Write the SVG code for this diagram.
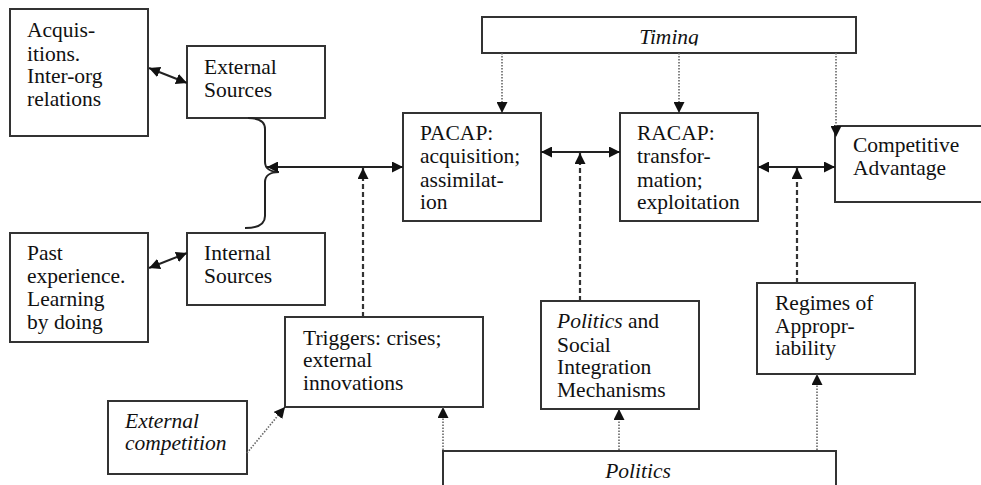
<svg xmlns="http://www.w3.org/2000/svg" width="981" height="485" viewBox="0 0 981 485">
<defs>
<marker id="ah" markerUnits="userSpaceOnUse" markerWidth="11" markerHeight="11" refX="11" refY="5.5" orient="auto-start-reverse">
<path d="M0,0 L11,5.5 L0,11 z" fill="#111"/>
</marker>
<clipPath id="tclip"><rect x="482" y="17" width="374" height="28.5"/></clipPath>
</defs>
<style>
.box{fill:#fff;stroke:#333;stroke-width:2}
.t{font-family:"Liberation Serif","Times New Roman",serif;font-size:21.5px;fill:#111}
.i{font-style:italic}
.solid{stroke:#222;stroke-width:2;fill:none}
.dash{stroke:#333;stroke-width:2.2;stroke-dasharray:5 3;fill:none}
.dot{stroke:#666;stroke-width:1.6;stroke-dasharray:1.5 1.5;fill:none}
</style>
<rect width="981" height="485" fill="#fff"/>

<g id="timing">
<rect class="box" x="482" y="17" width="374" height="36"/>
<text class="t i" x="669" y="44" text-anchor="middle" clip-path="url(#tclip)">Timing</text>
</g>

<g id="acquisitions">
<rect class="box" x="10" y="9" width="138" height="127"/>
<text class="t" x="27" y="37">Acquis-</text>
<text class="t" x="27" y="61">itions.</text>
<text class="t" x="27" y="83">Inter-org</text>
<text class="t" x="27" y="106">relations</text>
</g>

<g id="external-sources">
<rect class="box" x="187" y="46" width="138" height="72"/>
<text class="t" x="204" y="74">External</text>
<text class="t" x="204" y="97">Sources</text>
</g>

<g id="past-experience">
<rect class="box" x="10" y="233" width="138" height="109"/>
<text class="t" x="27" y="260">Past</text>
<text class="t" x="27" y="283">experience.</text>
<text class="t" x="27" y="306">Learning</text>
<text class="t" x="27" y="329">by doing</text>
</g>

<g id="internal-sources">
<rect class="box" x="187" y="233" width="138" height="72"/>
<text class="t" x="204" y="260">Internal</text>
<text class="t" x="204" y="283">Sources</text>
</g>

<g id="pacap">
<rect class="box" x="403" y="113" width="138" height="108"/>
<text class="t" x="420" y="140">PACAP:</text>
<text class="t" x="420" y="163">acquisition;</text>
<text class="t" x="420" y="187">assimilat-</text>
<text class="t" x="420" y="209">ion</text>
</g>

<g id="racap">
<rect class="box" x="620" y="113" width="138" height="108"/>
<text class="t" x="637" y="140">RACAP:</text>
<text class="t" x="637" y="163">transfor-</text>
<text class="t" x="637" y="187">mation;</text>
<text class="t" x="637" y="209">exploitation</text>
</g>

<g id="competitive-advantage">
<rect class="box" x="835" y="126" width="160" height="76"/>
<text class="t" x="853" y="152">Competitive</text>
<text class="t" x="853" y="175">Advantage</text>
</g>

<g id="triggers">
<rect class="box" x="285" y="317" width="198" height="90"/>
<text class="t" x="303" y="345">Triggers: crises;</text>
<text class="t" x="303" y="367">external</text>
<text class="t" x="303" y="390">innovations</text>
</g>

<g id="politics-social">
<rect class="box" x="541" y="301" width="158" height="108"/>
<text class="t" x="557" y="328"><tspan class="i">Politics</tspan> and</text>
<text class="t" x="557" y="352">Social</text>
<text class="t" x="557" y="374">Integration</text>
<text class="t" x="557" y="397">Mechanisms</text>
</g>

<g id="regimes">
<rect class="box" x="757" y="283" width="158" height="91"/>
<text class="t" x="775" y="310">Regimes of</text>
<text class="t" x="775" y="333">Appropr-</text>
<text class="t" x="775" y="355">iability</text>
</g>

<g id="external-competition">
<rect class="box" x="108" y="401" width="139" height="73"/>
<text class="t i" x="125" y="428">External</text>
<text class="t i" x="125" y="450">competition</text>
</g>

<g id="politics">
<rect class="box" x="443" y="451" width="393" height="50"/>
<text class="t i" x="638" y="478" text-anchor="middle">Politics</text>
</g>

<g id="connectors">
<line class="solid" x1="149" y1="68" x2="187" y2="83" marker-start="url(#ah)" marker-end="url(#ah)"/>
<line class="solid" x1="149" y1="268" x2="187" y2="253" marker-start="url(#ah)" marker-end="url(#ah)"/>
<path class="solid" d="M248,118 C259,118 265,121 265,129 L265,162 C265,168 270,172 279,172 C270,172 265,176 265,182 L265,216 C265,224 259,228 245,228"/>
<line class="solid" x1="267" y1="167" x2="403" y2="167" marker-start="url(#ah)" marker-end="url(#ah)"/>
<line class="solid" x1="541" y1="152" x2="620" y2="152" marker-start="url(#ah)" marker-end="url(#ah)"/>
<line class="solid" x1="758" y1="167" x2="835" y2="167" marker-start="url(#ah)" marker-end="url(#ah)"/>
<line class="dash" x1="363" y1="317" x2="363" y2="168" marker-end="url(#ah)"/>
<line class="dash" x1="580" y1="301" x2="580" y2="153" marker-end="url(#ah)"/>
<line class="dash" x1="797" y1="283" x2="797" y2="168" marker-end="url(#ah)"/>
<line class="dot" x1="502" y1="53" x2="502" y2="113" marker-end="url(#ah)"/>
<line class="dot" x1="679" y1="53" x2="679" y2="113" marker-end="url(#ah)"/>
<line class="dot" x1="836" y1="53" x2="836" y2="137" marker-end="url(#ah)"/>
<line class="dot" x1="443" y1="450" x2="443" y2="407" marker-end="url(#ah)"/>
<line class="dot" x1="619" y1="450" x2="619" y2="409" marker-end="url(#ah)"/>
<line class="dot" x1="817" y1="450" x2="817" y2="374" marker-end="url(#ah)"/>
<line class="dot" x1="247" y1="453" x2="285" y2="407" marker-end="url(#ah)"/>
</g>
</svg>
